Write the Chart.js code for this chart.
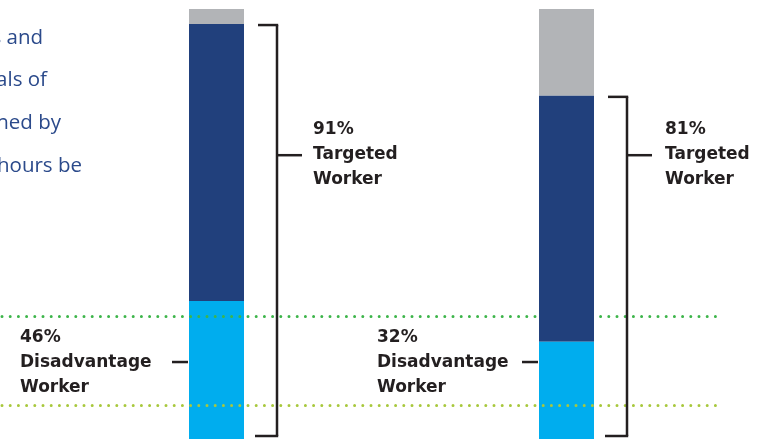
<!DOCTYPE html>
<html>
<head>
<meta charset="utf-8">
<script src="https://cdn.jsdelivr.net/npm/chart.js@4"></script>
<style>
  body { margin: 0; background: #fff; }
  canvas { display: block; }
</style>
</head>
<body>
<canvas id="grafico" width="760" height="439"></canvas>
<script>
// datos (porcentaje de la barra visible)
const categorias = ['Grupo 1', 'Grupo 2'];
const desventaja = [32.1, 22.6];
const focalizadoResto = [64.4, 57.2];
const otros = [3.5, 20.2];

// textos de las etiquetas
const pctFocalizado = ['91%', '81%'];
const pctDesventaja = ['46%', '32%'];
const textoParrafo = ['s and', 'als of', 'ned by', 'hours be'];

// lineas punteadas de referencia (valor en el eje y)
const lineasGuia = [28.6, 7.9];

const colorTexto = '#231f20';
const fuenteNegrita = 'bold 17px "DejaVu Sans"';

function lineaNegra(ctx, x1, y1, x2, y2) {
    ctx.beginPath();
    ctx.moveTo(x1, y1);
    ctx.lineTo(x2, y2);
    ctx.stroke();
}

function etiqueta(ctx, lineas, x, yMedio) {
    ctx.fillStyle = colorTexto;
    ctx.font = fuenteNegrita;
    ctx.textAlign = 'left';
    ctx.textBaseline = 'middle';
    lineas.forEach((t, i) => ctx.fillText(t, x, yMedio + (i - 1) * 25));
}

const anotaciones = {
    id: 'anotaciones',
    afterDatasetsDraw(chart) {
        const ctx = chart.ctx;
        const y = chart.scales.y;
        const area = chart.chartArea;
        const barrasOscuras = chart.getDatasetMeta(1).data;

        // lineas punteadas (no se ven sobre el azul oscuro)
        ctx.save();
        ctx.beginPath();
        ctx.rect(0, 0, chart.width, chart.height);
        barrasOscuras.forEach(b => {
            ctx.rect(b.x - b.width / 2, b.y, b.width, b.base - b.y);
        });
        ctx.clip('evenodd');
        const coloresGuia = ['#3db54a', '#a8c83c'];
        lineasGuia.forEach((v, i) => {
            const py = Math.round(y.getPixelForValue(v)) + 0.5;
            ctx.strokeStyle = coloresGuia[i];
            ctx.lineWidth = 3;
            ctx.lineCap = 'round';
            ctx.setLineDash([0, 8.2]);
            lineaNegra(ctx, 2, py, 722, py);
        });
        ctx.restore();

        // corchetes y etiquetas
        ctx.save();
        ctx.strokeStyle = colorTexto;
        ctx.lineWidth = 2.5;
        ctx.lineCap = 'butt';
        const yTick = y.getPixelForValue(66);
        const yDesv = y.getPixelForValue(17.9);
        const sepIzq = [169, 162];
        const sepDer = [36, 38];
        barrasOscuras.forEach((b, i) => {
            const der = b.x + b.width / 2;
            const izq = b.x - b.width / 2;
            const vx = der + 33;
            const arriba = b.y + 1;
            const abajo = area.bottom - 3;
            lineaNegra(ctx, vx - 19, arriba, vx + 1.2, arriba);
            lineaNegra(ctx, vx, arriba, vx, abajo);
            lineaNegra(ctx, vx - 22, abajo, vx + 1.2, abajo);
            lineaNegra(ctx, vx, yTick, vx + 25, yTick);
            etiqueta(ctx, [pctFocalizado[i], 'Targeted', 'Worker'], vx + sepDer[i], yTick - 0.5);

            lineaNegra(ctx, izq - 17, yDesv, izq - 1, yDesv);
            etiqueta(ctx, [pctDesventaja[i], 'Disadvantage', 'Worker'], izq - sepIzq[i], yDesv + 1);
        });
        ctx.restore();

        // parrafo cortado a la izquierda
        ctx.save();
        ctx.fillStyle = '#2b4a8b';
        ctx.font = '20.5px "Open Sans"';
        ctx.textAlign = 'right';
        ctx.textBaseline = 'alphabetic';
        const finales = [43, 47, 61, 82];
        const bases = [43.5, 85.5, 128.5, 171.5];
        textoParrafo.forEach((t, i) => ctx.fillText(t, finales[i], bases[i]));
        ctx.restore();
    }
};

const ctx = document.getElementById('grafico').getContext('2d');
new Chart(ctx, {
    type: 'bar',
    data: {
        labels: categorias,
        datasets: [
            { label: 'Disadvantage Worker', data: desventaja, backgroundColor: '#00adee' },
            { label: 'Targeted Worker', data: focalizadoResto, backgroundColor: '#21407c' },
            { label: 'Other', data: otros, backgroundColor: '#b2b4b7' }
        ]
    },
    options: {
        responsive: false,
        animation: false,
        layout: { padding: { left: 41.5, right: 18.5, top: 9, bottom: 0 } },
        datasets: { bar: { barPercentage: 1, categoryPercentage: 55 / 350 } },
        plugins: { legend: { display: false }, tooltip: { enabled: false } },
        scales: {
            x: { stacked: true, display: false },
            y: { stacked: true, display: false, min: 0, max: 100 }
        }
    },
    plugins: [anotaciones]
});
</script>
</body>
</html>
